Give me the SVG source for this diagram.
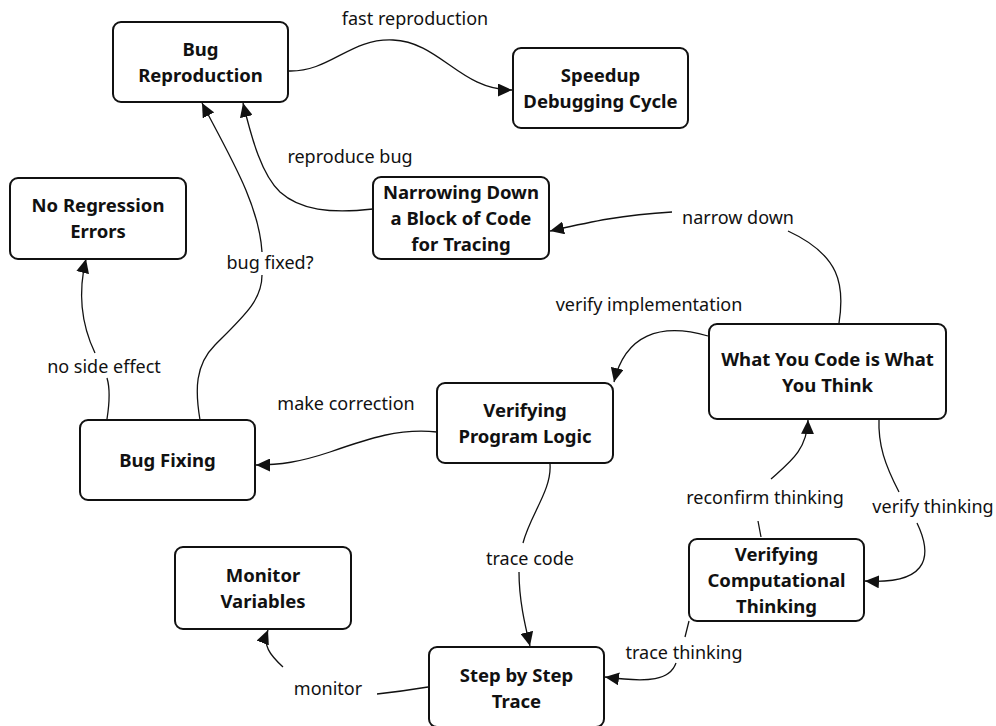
<svg xmlns="http://www.w3.org/2000/svg" width="996" height="726" viewBox="0 0 996 726">
<style>
.node rect{fill:#fff;stroke:#111;stroke-width:2}
.node text{font-family:"Noto Sans","Open Sans","DejaVu Sans",sans-serif;font-size:18.5px;font-weight:bold;fill:#111;text-anchor:middle}
.lbl{font-family:"Noto Sans","Open Sans","DejaVu Sans",sans-serif;font-size:18px;fill:#111;text-anchor:middle}
#connectors path{fill:none;stroke:#111;stroke-width:1.3}
#connectors path.a{marker-end:url(#arr)}
</style>
<defs>
<marker id="arr" markerUnits="userSpaceOnUse" markerWidth="15" markerHeight="13" refX="14" refY="6.5" orient="auto">
<path d="M0,0 L14,6.5 L0,13 z" fill="#111"/>
</marker>
</defs>
<rect width="996" height="726" fill="#fff"/>
<g id="connectors">
<path class="a" d="M289,71 C330,72 350,38 393,40 C440,42 460,90 512,90"/>
<path class="a" d="M373,209 C330,214 300,210 280,192 C262,175 252,140 243,103"/>
<path class="a" d="M262,252 C259,205 232,160 202,103"/>
<path d="M200,420 C195,390 195,365 215,345 C245,315 262,300 262,275"/>
<path class="a" d="M95,353 C84,330 76,300 86,259"/>
<path d="M107,419 C110,400 110,388 107,378"/>
<path class="a" d="M437,432 C400,428 370,438 330,452 C300,462 280,465 256,465"/>
<path d="M839,323 C845,285 840,255 788,231"/>
<path class="a" d="M672,212 C620,215 590,222 550,231"/>
<path class="a" d="M708,336 C660,322 625,335 614,382"/>
<path class="a" d="M771,479 C790,462 807,450 808,420"/>
<path d="M761,537 L758,521"/>
<path d="M879,419 C878,445 885,465 899,492"/>
<path class="a" d="M917,523 C930,550 935,585 865,581"/>
<path d="M550,464 C552,490 530,515 523,543"/>
<path class="a" d="M519,572 C519,600 525,625 530,646"/>
<path d="M689,621 L685,637"/>
<path class="a" d="M676,663 C670,680 650,683 605,677"/>
<path d="M428,687 C410,690 395,692 377,694"/>
<path class="a" d="M283,667 C270,655 262,645 268,630"/>
</g>
<g id="edge-labels">
<text class="lbl" x="415" y="25">fast reproduction</text>
<text class="lbl" x="350" y="163">reproduce bug</text>
<text class="lbl" x="270" y="269">bug fixed?</text>
<text class="lbl" x="104" y="373">no side effect</text>
<text class="lbl" x="346" y="410">make correction</text>
<text class="lbl" x="738" y="224">narrow down</text>
<text class="lbl" x="649" y="311">verify implementation</text>
<text class="lbl" x="765" y="504">reconfirm thinking</text>
<text class="lbl" x="933" y="513">verify thinking</text>
<text class="lbl" x="530" y="565">trace code</text>
<text class="lbl" x="684" y="659">trace thinking</text>
<text class="lbl" x="328" y="695">monitor</text>
</g>
<g id="bug-reproduction" class="node"><rect x="113" y="22" width="175" height="80" rx="8"/><text x="200.5" y="56">Bug</text><text x="200.5" y="82">Reproduction</text></g>
<g id="speedup" class="node"><rect x="513" y="48" width="175" height="80" rx="8"/><text x="600.5" y="82">Speedup</text><text x="600.5" y="108">Debugging Cycle</text></g>
<g id="no-regression" class="node"><rect x="10" y="178" width="176" height="81" rx="8"/><text x="98" y="212">No Regression</text><text x="98" y="238">Errors</text></g>
<g id="narrowing" class="node"><rect x="373" y="177" width="176" height="82" rx="8"/><text x="461" y="199">Narrowing Down</text><text x="461" y="225">a Block of Code</text><text x="461" y="251">for Tracing</text></g>
<g id="what-you-code" class="node"><rect x="709" y="324" width="237" height="95" rx="8"/><text x="827.5" y="366">What You Code is What</text><text x="827.5" y="392">You Think</text></g>
<g id="verifying-program" class="node"><rect x="437" y="383" width="176" height="80" rx="8"/><text x="525" y="417">Verifying</text><text x="525" y="443">Program Logic</text></g>
<g id="bug-fixing" class="node"><rect x="80" y="420" width="175" height="80" rx="8"/><text x="167.5" y="467">Bug Fixing</text></g>
<g id="monitor-variables" class="node"><rect x="175" y="547" width="176" height="82" rx="8"/><text x="263" y="582">Monitor</text><text x="263" y="608">Variables</text></g>
<g id="step-trace" class="node"><rect x="429" y="647" width="175" height="80" rx="8"/><text x="516.5" y="682">Step by Step</text><text x="516.5" y="708">Trace</text></g>
<g id="verifying-computational" class="node"><rect x="689" y="539" width="175" height="82" rx="8"/><text x="776.5" y="561">Verifying</text><text x="776.5" y="587">Computational</text><text x="776.5" y="613">Thinking</text></g>
</svg>
